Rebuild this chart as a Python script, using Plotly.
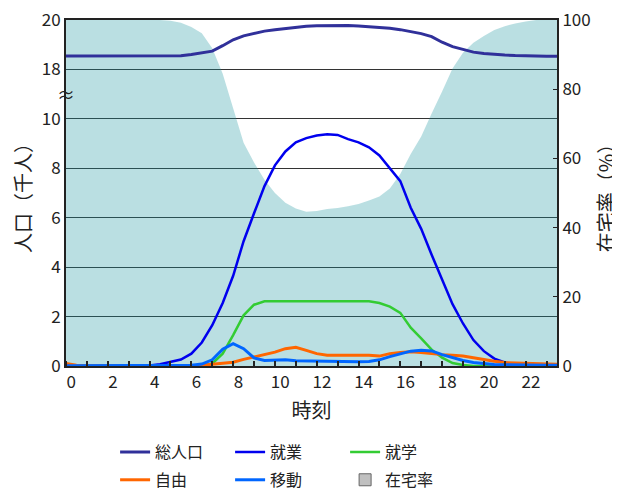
import plotly.graph_objects as go

# 時刻 (hours, 30-min steps)
time = [0.25 + 0.5 * k for k in range(48)]

# 人口 (千人)
total_pop = [18.54] * 11 + [
    18.55, 18.60, 18.66, 18.74, 18.96, 19.20, 19.36, 19.47, 19.55, 19.61,
    19.66, 19.70, 19.75, 19.77, 19.78, 19.78, 19.78, 19.76, 19.74, 19.72,
    19.67, 19.61, 19.54, 19.45, 19.33, 19.10, 18.92, 18.80, 18.70, 18.64,
    18.60, 18.58, 18.56, 18.54, 18.53, 18.53, 18.53]
work = [0, 0, 0, 0, 0, 0, 0, 0.01, 0.02,
        0.07, 0.15, 0.26, 0.50, 0.95, 1.65, 2.55, 3.65, 5.05, 6.18,
        7.28, 8.12, 8.68, 9.05, 9.22, 9.33, 9.38, 9.35, 9.18, 9.05,
        8.85, 8.52, 8.02, 7.48, 6.40, 5.55, 4.50, 3.48, 2.50, 1.72,
        1.05, 0.60, 0.30, 0.14, 0.07, 0.04, 0.03, 0.02, 0.02]
school = [0] * 14 + [0.10, 0.50, 1.25, 2.05, 2.48, 2.62] + [2.62] * 10 + [
    2.55, 2.40, 2.15, 1.55, 1.12, 0.66, 0.34, 0.12, 0.04] + [0] * 9
free = [0.10, 0.03] + [0.01] * 11 + [
    0.03, 0.07, 0.10, 0.15, 0.27, 0.36, 0.44, 0.56, 0.70, 0.76,
    0.63, 0.50, 0.44, 0.44, 0.44, 0.44, 0.43, 0.40, 0.50, 0.55,
    0.58, 0.55, 0.49, 0.46, 0.43, 0.40, 0.33, 0.25, 0.19, 0.14,
    0.12, 0.10, 0.09, 0.08, 0.07]
moving = [0.01] * 12 + [
    0.03, 0.08, 0.25, 0.68, 0.90, 0.70, 0.33, 0.22, 0.24, 0.25,
    0.21, 0.20, 0.18, 0.17, 0.17, 0.17, 0.17, 0.18, 0.25, 0.38,
    0.48, 0.60, 0.64, 0.61, 0.46, 0.33, 0.22, 0.14, 0.09, 0.06,
    0.05, 0.04, 0.03, 0.03, 0.03, 0.03]

# 在宅率 (%)
home_rate = [100] * 10 + [
    99.8, 99.2, 98.0, 96.2, 91.8, 84.5, 74.5, 64.5, 58.8, 53.8,
    50.0, 47.2, 45.5, 44.6, 44.8, 45.4, 45.7, 46.2, 46.8, 47.8,
    49.0, 51.3, 55.5, 61.3, 66.3, 73.0, 79.3, 86.0, 90.5, 93.4,
    95.4, 97.1, 98.2, 99.0, 99.6, 100, 100, 100]

# left axis has a break between 10 and 18
y_ticks = [0, 2, 4, 6, 8, 10, 18, 20]
axis_shift = 6  # 18 -> 12 on the drawn scale
x_labels = [str(h) for h in range(0, 24, 2)]

FONT = "Noto Sans CJK JP"

fig = go.Figure()

fig.add_trace(go.Scatter(
    x=time, y=home_rate, yaxis="y", mode="none", fill="tozeroy",
    fillcolor="rgba(28,148,158,0.30)", showlegend=False, name="在宅率"))

lines = [
    ("総人口", [v - axis_shift for v in total_pop], "#30309a", 3, "legend"),
    ("就業", work, "#0000ee", 2.5, "legend"),
    ("就学", school, "#33cc33", 2.5, "legend"),
    ("自由", free, "#ff6600", 3, "legend2"),
    ("移動", moving, "#0066ff", 3, "legend2"),
]
for name, ys, color, w, lg in lines:
    fig.add_trace(go.Scatter(
        x=time, y=ys, yaxis="y2", mode="lines", name=name,
        line=dict(color=color, width=w), legend=lg))

# legend key for the filled area (shown grey in the original key)
fig.add_trace(go.Bar(
    x=[None], y=[None], yaxis="y", name="在宅率", legend="legend2",
    marker=dict(color="#c0c0c0", line=dict(color="#666", width=1))))

tick_font = dict(family=FONT, size=17, color="#222")

fig.update_layout(
    width=620, height=489,
    margin=dict(l=58, r=71, t=12, b=131, autoexpand=False),
    paper_bgcolor="white", plot_bgcolor="white",
    font=dict(family=FONT, size=16, color="#222"),
    xaxis=dict(
        range=[0.25, 23.75], automargin=False,
        tickvals=[h + 0.5 for h in range(0, 24, 2)], ticktext=x_labels,
        ticks="", tickfont=tick_font, ticklabeloverflow="allow",
        minor=dict(tick0=1.25, dtick=1, ticks="inside", ticklen=5,
                   tickcolor="#222", tickwidth=1.5),
        showline=True, linecolor="#222", linewidth=2, mirror=True,
        showgrid=False, zeroline=False,
        title=dict(text="時刻", font=dict(family=FONT, size=20), standoff=12),
    ),
    yaxis=dict(
        range=[0, 100], side="right", automargin=False,
        tickvals=[0, 20, 40, 60, 80, 100], ticklabeloverflow="allow",
        ticks="inside", ticklen=4, tickcolor="#222", tickfont=tick_font,
        showline=True, linecolor="#222", linewidth=2,
        showgrid=False, zeroline=False,
        title=dict(text="在宅率（%）", font=dict(family=FONT, size=20), standoff=10),
    ),
    yaxis2=dict(
        range=[0, 14], side="left", overlaying="y", automargin=False,
        tickvals=[v if v <= 10 else v - axis_shift for v in y_ticks],
        ticktext=[str(v) for v in y_ticks], ticklabeloverflow="allow",
        ticks="", tickfont=tick_font,
        showline=True, linecolor="#222", linewidth=2,
        showgrid=True, gridcolor="#333", gridwidth=1, zeroline=False,
        title=dict(text="人口（千人）", font=dict(family=FONT, size=20), standoff=10),
    ),
    legend=dict(orientation="h", x=0.1, xanchor="left", y=-0.20, yanchor="top",
                font=dict(size=16), entrywidth=70, itemwidth=30,
                bgcolor="rgba(0,0,0,0)"),
    legend2=dict(orientation="h", x=0.1, xanchor="left", y=-0.28, yanchor="top",
                 font=dict(size=16), entrywidth=70, itemwidth=30,
                 bgcolor="rgba(0,0,0,0)"),
    annotations=[dict(
        text="≈", xref="paper", x=0, xanchor="center", yref="y2", y=11,
        showarrow=False, font=dict(family=FONT, size=18, color="#222"))],
)

fig.write_html("out.html")
